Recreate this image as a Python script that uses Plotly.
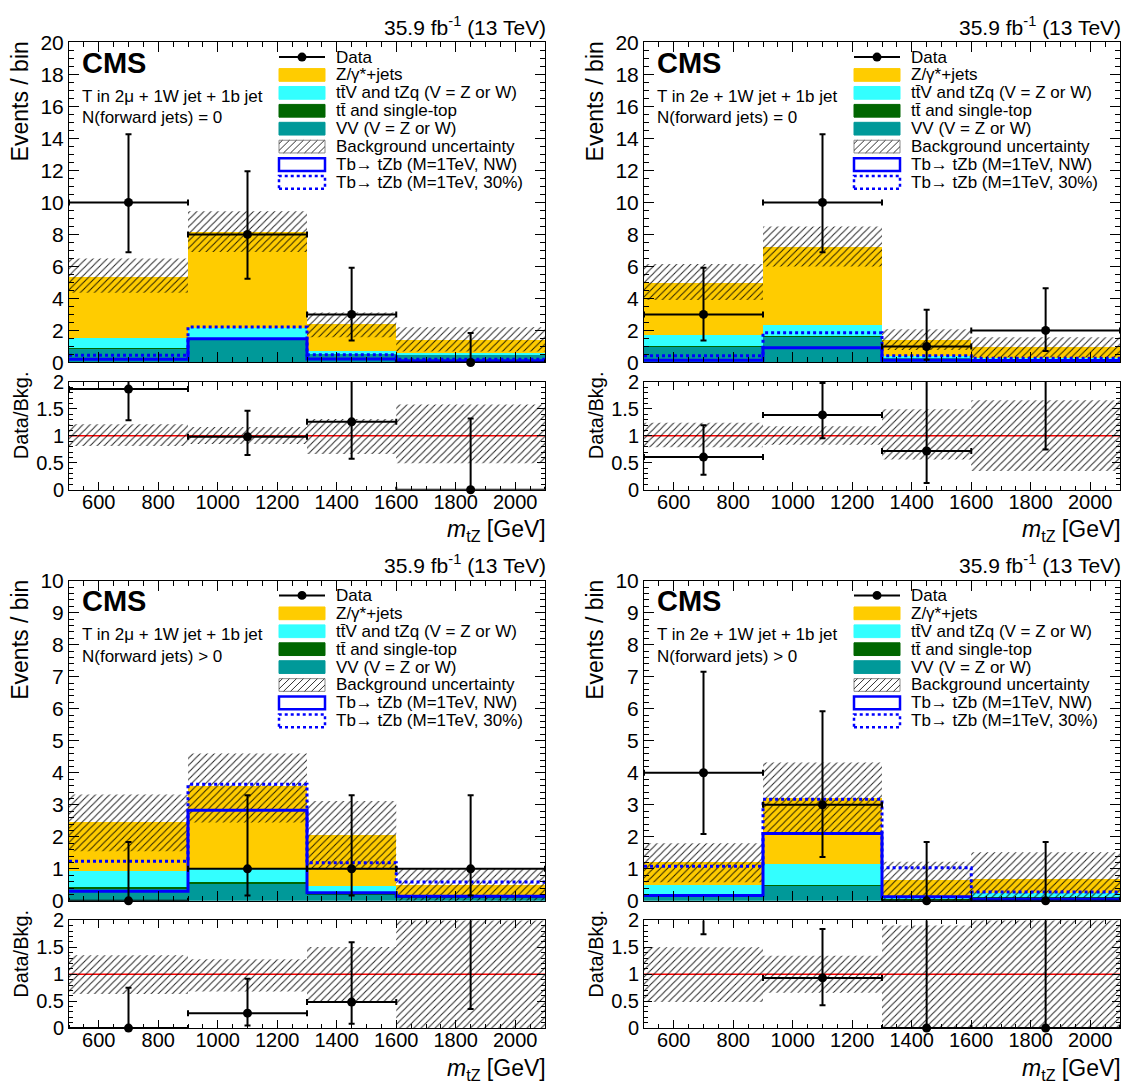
import plotly.graph_objects as go

W, H = 1130, 1090
FONT = "Liberation Sans, Arial, Helvetica, sans-serif"

# ---------------- data ----------------
EDGES = [500, 900, 1300, 1600, 2100]          # m_tZ bin edges [GeV]

# T in 2mu + 1W jet + 1b jet, N(forward jets) = 0
MU0_VV      = [0.88, 1.50, 0.52, 0.47]
MU0_TT      = [0.02, 0.03, 0.01, 0.01]
MU0_TTV     = [0.65, 0.65, 0.20, 0.08]
MU0_ZJ      = [3.80, 5.95, 1.65, 0.83]
MU0_BAND_LO = [4.35, 6.90, 1.58, 0.68]
MU0_BAND_HI = [6.50, 9.45, 3.12, 2.20]
MU0_SIG_NW  = [0.20, 1.48, 0.22, 0.10]
MU0_SIG_30  = [0.45, 2.22, 0.48, 0.20]
MU0_DATA    = [10, 8, 3, 0]
MU0_ERR_LO  = [3.11, 2.77, 1.63, 0.00]
MU0_ERR_HI  = [4.26, 3.94, 2.92, 1.84]

# T in 2e + 1W jet + 1b jet, N(forward jets) = 0
E0_VV      = [1.00, 1.60, 0.28, 0.18]
E0_TT      = [0.02, 0.03, 0.02, 0.02]
E0_TTV     = [0.70, 0.70, 0.12, 0.10]
E0_ZJ      = [3.23, 4.87, 0.97, 0.65]
E0_BAND_LO = [3.90, 6.00, 0.78, 0.33]
E0_BAND_HI = [6.15, 8.50, 2.08, 1.58]
E0_SIG_NW  = [0.14, 0.92, 0.14, 0.12]
E0_SIG_30  = [0.42, 1.85, 0.42, 0.26]
E0_DATA    = [3, 10, 1, 2]
E0_ERR_LO  = [1.63, 3.11, 0.83, 1.29]
E0_ERR_HI  = [2.92, 4.26, 2.30, 2.64]

# T in 2mu + 1W jet + 1b jet, N(forward jets) > 0
MU1_VV      = [0.40, 0.56, 0.22, 0.12]
MU1_TT      = [0.02, 0.02, 0.01, 0.01]
MU1_TTV     = [0.50, 0.42, 0.22, 0.05]
MU1_ZJ      = [1.53, 2.60, 1.62, 0.30]
MU1_BAND_LO = [1.55, 2.45, 0.98, 0.00]
MU1_BAND_HI = [3.32, 4.60, 3.12, 1.02]
MU1_SIG_NW  = [0.30, 2.83, 0.25, 0.14]
MU1_SIG_30  = [1.24, 3.64, 1.19, 0.59]
MU1_DATA    = [0, 1, 1, 1]
MU1_ERR_LO  = [0.00, 0.83, 0.83, 0.83]
MU1_ERR_HI  = [1.84, 2.30, 2.30, 2.30]

# T in 2e + 1W jet + 1b jet, N(forward jets) > 0
E1_VV      = [0.20, 0.48, 0.06, 0.12]
E1_TT      = [0.02, 0.02, 0.01, 0.01]
E1_TTV     = [0.28, 0.65, 0.08, 0.10]
E1_ZJ      = [0.70, 2.07, 0.49, 0.46]
E1_BAND_LO = [0.58, 2.12, 0.00, 0.00]
E1_BAND_HI = [1.80, 4.32, 1.22, 1.52]
E1_SIG_NW  = [0.17, 2.10, 0.13, 0.05]
E1_SIG_30  = [1.08, 3.17, 1.03, 0.28]
E1_DATA    = [4, 3, 0, 0]
E1_ERR_LO  = [1.91, 1.63, 0.00, 0.00]
E1_ERR_HI  = [3.16, 2.92, 1.84, 1.84]

CHANNELS = ["T in 2μ + 1W jet + 1b jet", "T in 2e + 1W jet + 1b jet",
            "T in 2μ + 1W jet + 1b jet", "T in 2e + 1W jet + 1b jet"]
FWD_TEXT = ["N(forward jets) = 0", "N(forward jets) = 0",
            "N(forward jets) > 0", "N(forward jets) > 0"]
LEGEND_LABELS = ["Data", "Z/γ*+jets", "tt\u0304V and tZq (V = Z or W)",
                 "tt\u0304 and single-top", "VV (V = Z or W)", "Background uncertainty",
                 "Tb\u2192 tZb (M=1TeV, NW)", "Tb\u2192 tZb (M=1TeV, 30%)"]
LUMI = "35.9 fb<sup>-1</sup> (13 TeV)"
XTITLE = "<i>m</i><sub>tZ</sub> [GeV]"

# ---------------- styles ----------------
C_ZJ, C_TTV, C_TT, C_VV = "#ffcc00", "#33ffff", "#006600", "#009999"
C_SIG = "#0000ff"
HATCH_FG = "#000000"

PANELS = [
    dict(vv=MU0_VV, tt=MU0_TT, ttv=MU0_TTV, zj=MU0_ZJ, blo=MU0_BAND_LO, bhi=MU0_BAND_HI,
         nw=MU0_SIG_NW, w30=MU0_SIG_30, data=MU0_DATA, elo=MU0_ERR_LO, ehi=MU0_ERR_HI,
         ymax=20, ydt=2, ymin=0.5),
    dict(vv=E0_VV, tt=E0_TT, ttv=E0_TTV, zj=E0_ZJ, blo=E0_BAND_LO, bhi=E0_BAND_HI,
         nw=E0_SIG_NW, w30=E0_SIG_30, data=E0_DATA, elo=E0_ERR_LO, ehi=E0_ERR_HI,
         ymax=20, ydt=2, ymin=0.5),
    dict(vv=MU1_VV, tt=MU1_TT, ttv=MU1_TTV, zj=MU1_ZJ, blo=MU1_BAND_LO, bhi=MU1_BAND_HI,
         nw=MU1_SIG_NW, w30=MU1_SIG_30, data=MU1_DATA, elo=MU1_ERR_LO, ehi=MU1_ERR_HI,
         ymax=10, ydt=1, ymin=0.2),
    dict(vv=E1_VV, tt=E1_TT, ttv=E1_TTV, zj=E1_ZJ, blo=E1_BAND_LO, bhi=E1_BAND_HI,
         nw=E1_SIG_NW, w30=E1_SIG_30, data=E1_DATA, elo=E1_ERR_LO, ehi=E1_ERR_HI,
         ymax=10, ydt=1, ymin=0.2),
]

# frame geometry in pixels
COLS = [(69, 545), (644, 1120)]
ROWS = [((31, 358), (378, 488)), ((581, 908), (928, 1038))]


def fx(px):
    return px / W


def fy(py):
    return 1 - py / H


CENTERS = [(a + b) / 2 for a, b in zip(EDGES[:-1], EDGES[1:])]
HALFW = [(b - a) / 2 for a, b in zip(EDGES[:-1], EDGES[1:])]
WIDTHS = [b - a for a, b in zip(EDGES[:-1], EDGES[1:])]


def rects(lo, hi):
    xs, ys = [], []
    for a, b, l, h in zip(EDGES[:-1], EDGES[1:], lo, hi):
        xs += [a, b, b, a, a, None]
        ys += [l, l, h, h, l, None]
    return xs, ys


HATCH = dict(shape="/", fgcolor=HATCH_FG, bgcolor="rgba(0,0,0,0)", size=5, solidity=0.2,
             fgopacity=0.85)

fig = go.Figure()
layout = dict(
    width=W, height=H, autosize=False,
    margin=dict(l=0, r=0, t=0, b=0),
    paper_bgcolor="white", plot_bgcolor="white",
    barmode="stack", showlegend=False,
    font=dict(family=FONT, color="black"),
)
annotations = []
shapes = []


def axis_base(tsize):
    return dict(showline=True, linecolor="black", linewidth=1, mirror="allticks",
                ticks="inside", tickcolor="black", tickwidth=1, showgrid=False,
                zeroline=False, fixedrange=True,
                tickfont=dict(family=FONT, size=tsize, color="black"))


def hatch_path(x0, y0, x1, y1, step=7):
    segs = []
    s = x0 + y0 + step / 2
    while s < x1 + y1:
        lo = max(x0, s - y1)
        hi = min(x1, s - y0)
        if hi > lo:
            segs.append("M%.5f,%.5f L%.5f,%.5f" % (fx(lo), fy(s - lo), fx(hi), fy(s - hi)))
        s += step
    return " ".join(segs)


def ann(text, x, y, size, xa="left", ya="middle", angle=0, bold=False):
    annotations.append(dict(text=("<b>%s</b>" % text) if bold else text,
                            x=fx(x), y=fy(y), xref="paper", yref="paper",
                            xanchor=xa, yanchor=ya, textangle=angle, showarrow=False,
                            borderpad=0,
                            font=dict(family=FONT, size=size, color="black")))


for i, p in enumerate(PANELS):
    col, row = i % 2, i // 2
    L, R = COLS[col]
    (mt, mb), (rt, rb) = ROWS[row]
    nm, nr = 2 * i + 1, 2 * i + 2
    xm = "x" if nm == 1 else "x%d" % nm
    ym = "y" if nm == 1 else "y%d" % nm
    xr, yr = "x%d" % nr, "y%d" % nr

    total = [a + b + c + d for a, b, c, d in zip(p["vv"], p["tt"], p["ttv"], p["zj"])]

    # stacked backgrounds
    for vals, color in [(p["vv"], C_VV), (p["tt"], C_TT), (p["ttv"], C_TTV), (p["zj"], C_ZJ)]:
        fig.add_trace(go.Bar(x=CENTERS, y=vals, width=WIDTHS, xaxis=xm, yaxis=ym,
                             marker=dict(color=color, line=dict(width=0)),
                             hoverinfo="skip", showlegend=False))
    # uncertainty band
    bx, by = rects(p["blo"], p["bhi"])
    fig.add_trace(go.Scatter(x=bx, y=by, mode="lines", line=dict(width=0), fill="toself",
                             fillcolor="rgba(0,0,0,0)", fillpattern=HATCH,
                             xaxis=xm, yaxis=ym, hoverinfo="skip", showlegend=False))
    # signals
    fig.add_trace(go.Scatter(x=EDGES, y=p["nw"] + [p["nw"][-1]], mode="lines",
                             line=dict(color=C_SIG, width=3, shape="hv"),
                             xaxis=xm, yaxis=ym, showlegend=False))
    fig.add_trace(go.Scatter(x=EDGES, y=p["w30"] + [p["w30"][-1]], mode="lines",
                             line=dict(color=C_SIG, width=3, shape="hv", dash="dot"),
                             xaxis=xm, yaxis=ym, showlegend=False))
    # data: error bars (clipped) and markers
    fig.add_trace(go.Scatter(x=CENTERS, y=p["data"], mode="markers",
                             marker=dict(size=1, color="rgba(0,0,0,0)"),
                             error_y=dict(type="data", symmetric=False, array=p["ehi"],
                                          arrayminus=p["elo"], color="black", thickness=2, width=3),
                             error_x=dict(type="data", array=HALFW, color="black", thickness=2, width=3),
                             xaxis=xm, yaxis=ym, showlegend=False))
    fig.add_trace(go.Scatter(x=CENTERS, y=p["data"], mode="markers", cliponaxis=False,
                             marker=dict(size=9, color="black"),
                             xaxis=xm, yaxis=ym, showlegend=False))

    # ratio panel
    rlo = [l / t for l, t in zip(p["blo"], total)]
    rhi = [h / t for h, t in zip(p["bhi"], total)]
    rbx, rby = rects(rlo, rhi)
    fig.add_trace(go.Scatter(x=rbx, y=rby, mode="lines", line=dict(width=0), fill="toself",
                             fillcolor="rgba(0,0,0,0)", fillpattern=HATCH,
                             xaxis=xr, yaxis=yr, hoverinfo="skip", showlegend=False))
    ratio = [d / t for d, t in zip(p["data"], total)]
    r_elo = [e / t for e, t in zip(p["elo"], total)]
    r_ehi = [e / t for e, t in zip(p["ehi"], total)]
    fig.add_trace(go.Scatter(x=CENTERS, y=ratio, mode="markers",
                             marker=dict(size=1, color="rgba(0,0,0,0)"),
                             error_y=dict(type="data", symmetric=False, array=r_ehi,
                                          arrayminus=r_elo, color="black", thickness=2, width=3),
                             error_x=dict(type="data", array=HALFW, color="black", thickness=2, width=3),
                             xaxis=xr, yaxis=yr, showlegend=False))
    fig.add_trace(go.Scatter(x=CENTERS, y=ratio, mode="markers", cliponaxis=False,
                             marker=dict(size=9, color="black"),
                             xaxis=xr, yaxis=yr, showlegend=False))

    # axes
    xd = [fx(L), fx(R)]
    ax = axis_base(21)
    ax.update(range=[EDGES[0], EDGES[-1]], domain=xd, anchor=ym, dtick=200, tick0=0,
              ticklen=10, showticklabels=False,
              minor=dict(ticks="inside", ticklen=5, dtick=50, tick0=0, tickcolor="black", showgrid=False))
    layout["xaxis" if nm == 1 else "xaxis%d" % nm] = ax
    ay = axis_base(21)
    ay.update(range=[0, p["ymax"]], domain=[fy(mb), fy(mt)], anchor=xm, dtick=p["ydt"], tick0=0,
              ticklen=10,
              minor=dict(ticks="inside", ticklen=5, dtick=p["ymin"], tick0=0, tickcolor="black", showgrid=False))
    layout["yaxis" if nm == 1 else "yaxis%d" % nm] = ay
    axr = axis_base(20)
    axr.update(range=[EDGES[0], EDGES[-1]], domain=xd, anchor=yr, dtick=200, tick0=0,
               ticklen=8, ticklabelstandoff=-6,
               minor=dict(ticks="inside", ticklen=4, dtick=50, tick0=0, tickcolor="black", showgrid=False))
    layout["xaxis%d" % nr] = axr
    ayr = axis_base(20)
    ayr.update(range=[0, 2], domain=[fy(rb), fy(rt)], anchor=xr, dtick=0.5, tick0=0,
               ticklen=8,
               minor=dict(ticks="inside", ticklen=4, dtick=0.1, tick0=0, tickcolor="black", showgrid=False))
    layout["yaxis%d" % nr] = ayr

    # red line at 1
    shapes.append(dict(type="line", xref="%s domain" % xr, yref=yr, x0=0, x1=1, y0=1, y1=1,
                       line=dict(color="#ff0000", width=1.5), layer="below"))

    # texts
    ann(LUMI, R + 2, mt - 17, 21, xa="right")
    ann("CMS", L + 12, mt + 21, 29, bold=True)
    ann(CHANNELS[i], L + 12, mt + 55, 17)
    ann(FWD_TEXT[i], L + 12, mt + 77, 17)
    ann("Events / bin", L - 49, mt - 2, 23, xa="center", ya="top", angle=-90)
    ann("Data/Bkg.", L - 48, rt - 12, 20, xa="center", ya="top", angle=-90)
    ann(XTITLE, R + 2, rb + 42, 23, xa="right")

    # legend (drawn as layout decoration)
    LX = L + 210
    sw = 46
    for k, label in enumerate(LEGEND_LABELS):
        yc = mt + 15 + k * 18.3
        x0, x1, y0, y1 = LX, LX + sw, yc - 6.5, yc + 6.5
        box = dict(type="rect", xref="paper", yref="paper",
                   x0=fx(x0), x1=fx(x1), y0=fy(y1), y1=fy(y0), layer="above")
        if k == 0:
            shapes.append(dict(type="line", xref="paper", yref="paper", x0=fx(x0), x1=fx(x1),
                               y0=fy(yc), y1=fy(yc), line=dict(color="black", width=2)))
            xm_ = (x0 + x1) / 2
            shapes.append(dict(type="circle", xref="paper", yref="paper",
                               x0=fx(xm_ - 4.5), x1=fx(xm_ + 4.5), y0=fy(yc + 4.5), y1=fy(yc - 4.5),
                               fillcolor="black", line=dict(color="black", width=0)))
        elif k in (1, 2, 3, 4):
            c = [C_ZJ, C_TTV, C_TT, C_VV][k - 1]
            box.update(fillcolor=c, line=dict(color=c, width=1))
            shapes.append(box)
        elif k == 5:
            box.update(fillcolor="white", line=dict(color="#888888", width=1))
            shapes.append(box)
            shapes.append(dict(type="path", xref="paper", yref="paper",
                               path=hatch_path(x0, y0, x1, y1), line=dict(color="#333333", width=1)))
        elif k == 6:
            box.update(fillcolor="white", line=dict(color=C_SIG, width=2.5))
            shapes.append(box)
        else:
            box.update(fillcolor="white", line=dict(color=C_SIG, width=2.5, dash="dot"))
            shapes.append(box)
        ann(label, LX + 56, yc, 17)

layout["annotations"] = annotations
layout["shapes"] = shapes
fig.update_layout(**layout)

fig.write_html("out.html", config={"displayModeBar": False},
               post_script="document.body.style.margin='0';document.body.style.overflow='hidden';")
